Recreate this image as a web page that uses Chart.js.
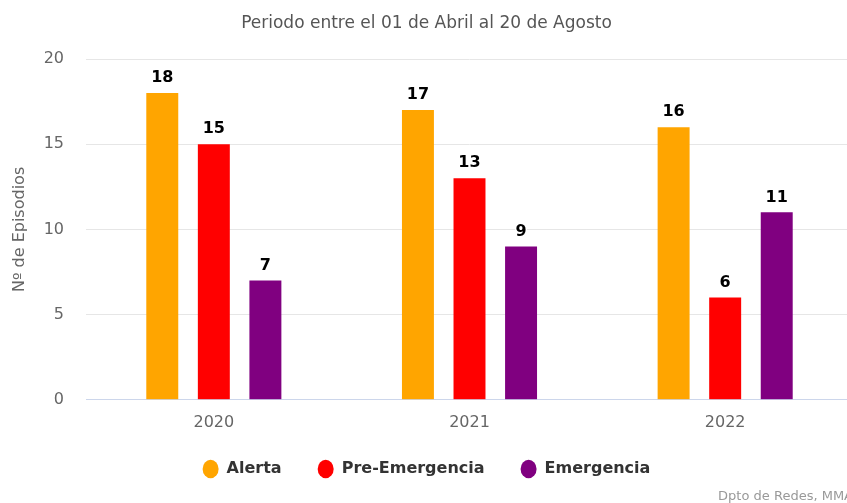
<!DOCTYPE html>
<html>
<head>
<meta charset="utf-8">
<script src="https://cdn.jsdelivr.net/npm/chart.js@4.4.0/dist/chart.umd.min.js"></script>
<style>
  html, body { margin: 0; padding: 0; background: #fff; overflow: hidden; }
  #chart { display: block; }
</style>
</head>
<body>
<canvas id="chart" width="853" height="503"></canvas>
<script>
const years = ['2020', '2021', '2022'];
const alerta = [18, 17, 16];
const preEmergencia = [15, 13, 6];
const emergencia = [7, 9, 11];
const yTicks = [0, 5, 10, 15, 20];

const FONT = '"DejaVu Sans", sans-serif';

// numbers above each bar
const valueLabels = {
  id: 'valueLabels',
  afterDatasetsDraw(chart) {
    const ctx = chart.ctx;
    ctx.save();
    ctx.font = 'bold 16px ' + FONT;
    ctx.textAlign = 'center';
    ctx.textBaseline = 'bottom';
    ctx.lineJoin = 'round';
    chart.data.datasets.forEach((ds, i) => {
      chart.getDatasetMeta(i).data.forEach((bar, j) => {
        const txt = String(ds.data[j]);
        ctx.lineWidth = 3;
        ctx.strokeStyle = '#fff';
        ctx.strokeText(txt, bar.x, bar.y - 7);
        ctx.fillStyle = '#000';
        ctx.fillText(txt, bar.x, bar.y - 7);
      });
    });
    ctx.restore();
  }
};

// source line, bottom right
const credits = {
  id: 'credits',
  afterDraw(chart) {
    const ctx = chart.ctx;
    ctx.save();
    ctx.font = '13px ' + FONT;
    ctx.fillStyle = '#999';
    ctx.textAlign = 'right';
    ctx.textBaseline = 'middle';
    ctx.fillText('Dpto de Redes, MMA', chart.width, 497);
    ctx.restore();
  }
};

// pull the legend up, its label padding also pads vertically
const legendShift = {
  id: 'legendShift',
  afterLayout(chart) {
    chart.legend.top -= 20;
    chart.legend.bottom -= 20;
  }
};

new Chart(document.getElementById('chart'), {
  type: 'bar',
  data: {
    labels: years,
    datasets: [
      { label: 'Alerta', data: alerta, backgroundColor: '#FFA500' },
      { label: 'Pre-Emergencia', data: preEmergencia, backgroundColor: '#FF0000' },
      { label: 'Emergencia', data: emergencia, backgroundColor: '#800080' }
    ]
  },
  options: {
    responsive: false,
    animation: false,
    datasets: {
      bar: { categoryPercentage: 0.605, barPercentage: 0.62, borderWidth: 0 }
    },
    layout: { padding: { left: 0, right: 0, top: 0, bottom: -4 } },
    plugins: {
      title: {
        display: true,
        text: 'Periodo entre el 01 de Abril al 20 de Agosto',
        color: '#555',
        font: { family: FONT, size: 17, weight: 'normal' },
        padding: { top: 13, bottom: 25.6 }
      },
      legend: {
        position: 'bottom',
        labels: {
          usePointStyle: true,
          pointStyle: 'circle',
          pointStyleWidth: 16,
          boxHeight: 13,
          padding: 36,
          color: '#333',
          font: { family: FONT, size: 16, weight: 'bold' }
        }
      },
      tooltip: { enabled: false }
    },
    scales: {
      x: {
        grid: { display: false, drawTicks: false },
        border: { color: '#ccd6eb', width: 1 },
        ticks: { color: '#666', padding: 13, font: { family: FONT, size: 16 } }
      },
      y: {
        min: 0,
        max: 20,
        afterBuildTicks(scale) {
          scale.ticks = yTicks.map(v => ({ value: v }));
        },
        afterFit(scale) {
          scale.width = 86;
        },
        grid: { color: '#e6e6e6', drawTicks: false },
        border: { display: false },
        ticks: { color: '#666', padding: 22, font: { family: FONT, size: 16 } },
        title: {
          display: true,
          text: 'Nº de Episodios',
          color: '#666',
          padding: { top: 10, bottom: 0 },
          font: { family: FONT, size: 16, weight: 'normal' }
        }
      }
    }
  },
  plugins: [valueLabels, credits, legendShift]
});
</script>
</body>
</html>
